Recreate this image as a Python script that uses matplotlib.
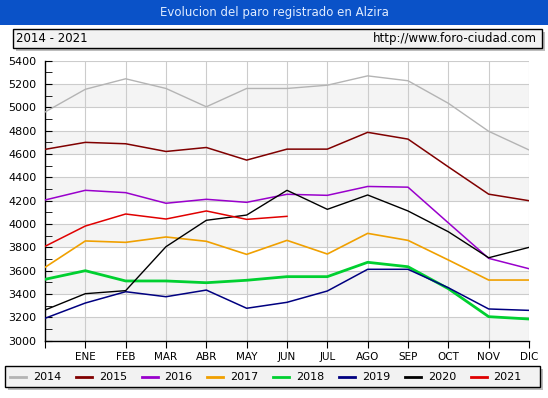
import matplotlib.pyplot as plt
from matplotlib.patches import Rectangle
from matplotlib.lines import Line2D

# months (first slot = previous December, unlabeled)
months = ["", "ENE", "FEB", "MAR", "ABR", "MAY", "JUN", "JUL", "AGO", "SEP", "OCT", "NOV", "DIC"]

y2014 = [4960, 5155, 5245, 5162, 5005, 5162, 5162, 5190, 5270, 5228, 5035, 4795, 4635]
y2015 = [4640, 4700, 4688, 4622, 4656, 4548, 4642, 4642, 4786, 4728, 4490, 4256, 4200]
y2016 = [4206, 4289, 4269, 4178, 4212, 4186, 4255, 4246, 4322, 4316, 4010, 3706, 3617]
y2017 = [3629, 3855, 3843, 3889, 3852, 3740, 3860, 3743, 3920, 3860, 3692, 3520, 3520]
y2018 = [3526, 3600, 3512, 3512, 3497, 3518, 3549, 3549, 3672, 3634, 3446, 3206, 3186]
y2019 = [3192, 3323, 3420, 3377, 3434, 3278, 3329, 3426, 3612, 3612, 3454, 3272, 3260]
y2020 = [3263, 3403, 3429, 3806, 4032, 4077, 4289, 4126, 4249, 4112, 3934, 3711, 3800]
y2021 = [3809, 3983, 4086, 4043, 4112, 4040, 4066]

years = ["2014", "2015", "2016", "2017", "2018", "2019", "2020", "2021"]
series = [y2014, y2015, y2016, y2017, y2018, y2019, y2020, y2021]
colors = ["#b4b4b4", "#800000", "#9900cc", "#f0a000", "#00d030", "#000080", "#000000", "#e00000"]
widths = [1.0, 1.1, 1.1, 1.2, 2.0, 1.1, 1.0, 1.1]

W, H = 548, 398
fig = plt.figure(figsize=(W / 100, H / 100), dpi=100)
fig.patch.set_facecolor("white")

# title bar
fig.patches.append(Rectangle((0, 1 - 25 / H), 1, 25 / H, transform=fig.transFigure,
                             facecolor="#0a52c8", edgecolor="none"))
fig.text(0.5, 1 - 12.5 / H, "Evolucion del paro registrado en Alzira", color="#e0ecff",
         ha="center", va="center", fontsize=8.5)

# subheader box with shadow
def box(x0, y0, x1, y1):
    fig.patches.append(Rectangle((x0 / W + 3 / W, 1 - y1 / H - 3 / H), (x1 - x0) / W, (y1 - y0) / H,
                                 transform=fig.transFigure, facecolor="#bdbdbd", edgecolor="none"))
    fig.patches.append(Rectangle((x0 / W, 1 - y1 / H), (x1 - x0) / W, (y1 - y0) / H,
                                 transform=fig.transFigure, facecolor="#f2f2f2",
                                 edgecolor="black", linewidth=1))

box(12.5, 29, 541.5, 47.5)
fig.text(16 / W, 1 - 38.5 / H, "2014 - 2021", ha="left", va="center", fontsize=8.5)
fig.text(537 / W, 1 - 38.5 / H, "http://www.foro-ciudad.com", ha="right", va="center", fontsize=8.5)

# plot area
ax = fig.add_axes([45 / W, 1 - 340.7 / H, 484 / W, 280 / H])
x = list(range(len(months)))
for lo in range(3000, 5400, 400):
    ax.axhspan(lo, lo + 200, color="#f4f4f4", zorder=0, lw=0)
for yr, vals, c, lw in zip(years, series, colors, widths):
    ax.plot(x[:len(vals)], vals, color=c, lw=lw, zorder=3)

ax.set_xlim(0, 12)
ax.set_ylim(3000, 5400)
ax.set_xticks(x)
ax.set_xticklabels(months, fontsize=7.5)
ax.set_yticks(range(3000, 5401, 200))
ax.set_yticks(range(3100, 5400, 200), minor=True)
ax.tick_params(axis="y", direction="in", length=5, labelsize=8, pad=6)
ax.tick_params(axis="y", which="minor", direction="in", length=5)
ax.tick_params(axis="x", direction="out", length=5, labelsize=7.5, pad=3)
ax.grid(True, color="#cccccc", lw=0.8, zorder=1)
ax.set_axisbelow(True)
for s in ["top", "right"]:
    ax.spines[s].set_visible(False)
ax.spines["left"].set_linewidth(1)
ax.spines["bottom"].set_linewidth(1)
ax.set_facecolor("white")

# legend
box(4.5, 366, 540, 387)
for i, (yr, c) in enumerate(zip(years, colors)):
    x0 = 10 + i * 65.8
    fig.lines.append(Line2D([x0 / W, (x0 + 16) / W], [1 - 376.5 / H] * 2, transform=fig.transFigure,
                            color=c, lw=2.0))
    fig.text((x0 + 23) / W, 1 - 376.5 / H, yr, ha="left", va="center", fontsize=8)

fig.savefig("out.png", dpi=100)
